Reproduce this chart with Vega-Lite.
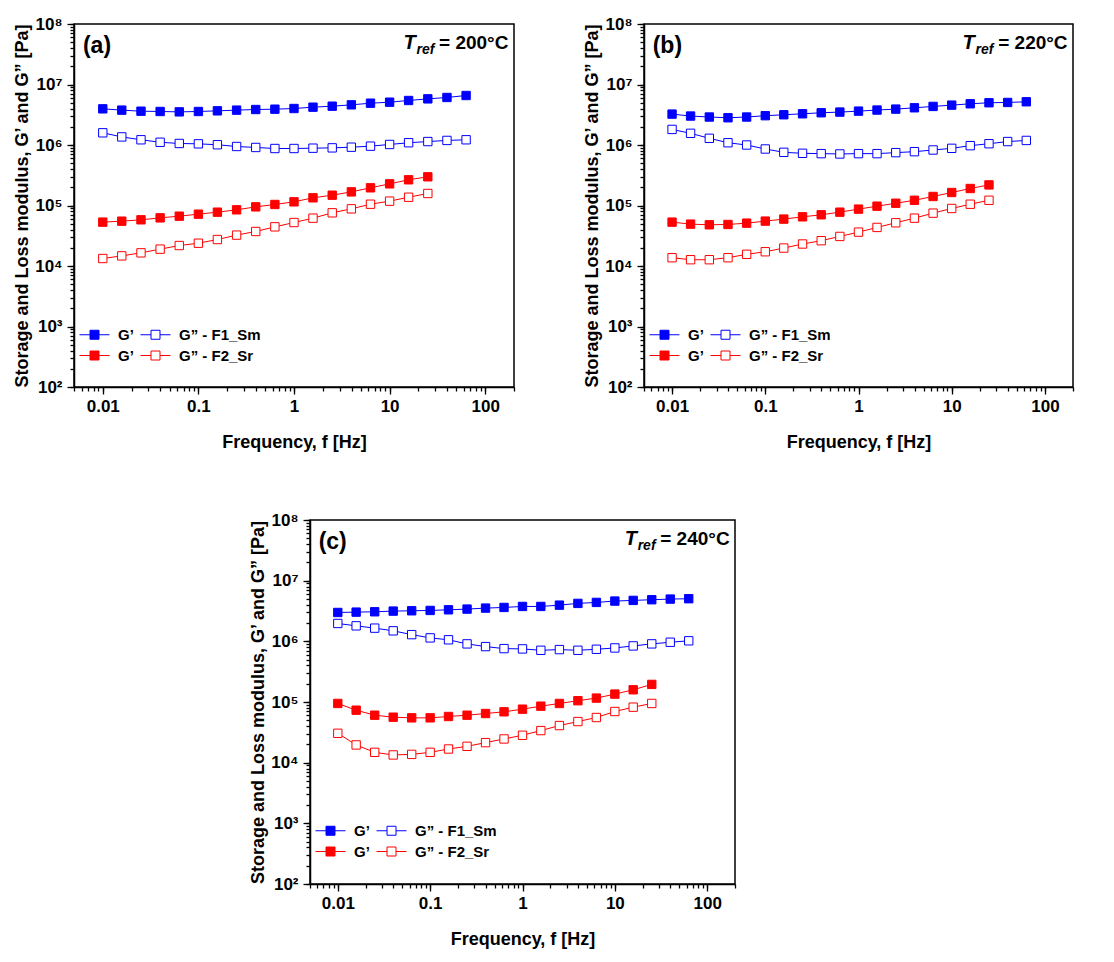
{
"$schema": "https://vega.github.io/schema/vega-lite/v6.json",
"background": "white",
"padding": {"left": 12, "top": 14, "right": 5, "bottom": 5},
"config": {
  "font": "Liberation Sans",
  "view": {"stroke": "black", "strokeWidth": 1.5},
  "axis": {"domainColor": "black", "domainWidth": 1.5, "tickColor": "black", "tickWidth": 1.3, "labelFont": "Liberation Sans", "labelFontSize": 17, "labelFontWeight": "bold", "labelColor": "black", "titleFont": "Liberation Sans", "titleFontSize": 18, "titleFontWeight": "bold", "titleColor": "black", "grid": false, "labelOverlap": false, "labelFlush": false},
  "legend": {"symbolType": "M-1.5,0H-0.45M0.45,0H1.5M-0.45,-0.45H0.45V0.45H-0.45Z", "symbolSize": 400, "symbolStrokeWidth": 1, "labelFont": "Liberation Sans", "labelFontSize": 15, "labelFontWeight": "bold", "labelColor": "black", "columnPadding": 4, "rowPadding": 2, "labelOffset": 13}
},
"datasets": {
"a": [
{"f":0.01,"s":"Sm_G1","G":3960000},{"f":0.0158,"s":"Sm_G1","G":3770000},{"f":0.0251,"s":"Sm_G1","G":3620000},{"f":0.0398,"s":"Sm_G1","G":3580000},{"f":0.0631,"s":"Sm_G1","G":3530000},{"f":0.1,"s":"Sm_G1","G":3580000},{"f":0.158,"s":"Sm_G1","G":3670000},{"f":0.251,"s":"Sm_G1","G":3770000},{"f":0.398,"s":"Sm_G1","G":3860000},{"f":0.631,"s":"Sm_G1","G":3910000},{"f":1,"s":"Sm_G1","G":4010000},{"f":1.58,"s":"Sm_G1","G":4220000},{"f":2.51,"s":"Sm_G1","G":4380000},{"f":3.98,"s":"Sm_G1","G":4610000},{"f":6.31,"s":"Sm_G1","G":4910000},{"f":10,"s":"Sm_G1","G":5100000},{"f":15.8,"s":"Sm_G1","G":5440000},{"f":25.1,"s":"Sm_G1","G":5790000},{"f":39.8,"s":"Sm_G1","G":6100000},{"f":63.1,"s":"Sm_G1","G":6580000},
{"f":0.01,"s":"Sm_G2","G":1590000},{"f":0.0158,"s":"Sm_G2","G":1360000},{"f":0.0251,"s":"Sm_G2","G":1220000},{"f":0.0398,"s":"Sm_G2","G":1110000},{"f":0.0631,"s":"Sm_G2","G":1060000},{"f":0.1,"s":"Sm_G2","G":1045000},{"f":0.158,"s":"Sm_G2","G":1010000},{"f":0.251,"s":"Sm_G2","G":945000},{"f":0.398,"s":"Sm_G2","G":910000},{"f":0.631,"s":"Sm_G2","G":875000},{"f":1,"s":"Sm_G2","G":875000},{"f":1.58,"s":"Sm_G2","G":886000},{"f":2.51,"s":"Sm_G2","G":897000},{"f":3.98,"s":"Sm_G2","G":920000},{"f":6.31,"s":"Sm_G2","G":957000},{"f":10,"s":"Sm_G2","G":1020000},{"f":15.8,"s":"Sm_G2","G":1090000},{"f":25.1,"s":"Sm_G2","G":1140000},{"f":39.8,"s":"Sm_G2","G":1190000},{"f":63.1,"s":"Sm_G2","G":1220000},
{"f":0.01,"s":"Sr_G1","G":53100},{"f":0.0158,"s":"Sr_G1","G":55100},{"f":0.0251,"s":"Sr_G1","G":58000},{"f":0.0398,"s":"Sr_G1","G":62500},{"f":0.0631,"s":"Sr_G1","G":66600},{"f":0.1,"s":"Sr_G1","G":71900},{"f":0.158,"s":"Sr_G1","G":77600},{"f":0.251,"s":"Sr_G1","G":84800},{"f":0.398,"s":"Sr_G1","G":95000},{"f":0.631,"s":"Sr_G1","G":104000},{"f":1,"s":"Sr_G1","G":115000},{"f":1.58,"s":"Sr_G1","G":134000},{"f":2.51,"s":"Sr_G1","G":148000},{"f":3.98,"s":"Sr_G1","G":168000},{"f":6.31,"s":"Sr_G1","G":196000},{"f":10,"s":"Sr_G1","G":228000},{"f":15.8,"s":"Sr_G1","G":266000},{"f":25.1,"s":"Sr_G1","G":298000},
{"f":0.01,"s":"Sr_G2","G":13300},{"f":0.0158,"s":"Sr_G2","G":14700},{"f":0.0251,"s":"Sr_G2","G":16500},{"f":0.0398,"s":"Sr_G2","G":19000},{"f":0.0631,"s":"Sr_G2","G":21800},{"f":0.1,"s":"Sr_G2","G":23800},{"f":0.158,"s":"Sr_G2","G":27400},{"f":0.251,"s":"Sr_G2","G":32400},{"f":0.398,"s":"Sr_G2","G":37200},{"f":0.631,"s":"Sr_G2","G":44400},{"f":1,"s":"Sr_G2","G":52300},{"f":1.58,"s":"Sr_G2","G":61800},{"f":2.51,"s":"Sr_G2","G":75700},{"f":3.98,"s":"Sr_G2","G":88100},{"f":6.31,"s":"Sr_G2","G":105000},{"f":10,"s":"Sr_G2","G":118000},{"f":15.8,"s":"Sr_G2","G":137000},{"f":25.1,"s":"Sr_G2","G":158000}
],
"b": [
{"f":0.01,"s":"Sm_G1","G":3240000},{"f":0.0158,"s":"Sm_G1","G":3010000},{"f":0.0251,"s":"Sm_G1","G":2900000},{"f":0.0398,"s":"Sm_G1","G":2820000},{"f":0.0631,"s":"Sm_G1","G":2900000},{"f":0.1,"s":"Sm_G1","G":3050000},{"f":0.158,"s":"Sm_G1","G":3160000},{"f":0.251,"s":"Sm_G1","G":3280000},{"f":0.398,"s":"Sm_G1","G":3410000},{"f":0.631,"s":"Sm_G1","G":3500000},{"f":1,"s":"Sm_G1","G":3630000},{"f":1.58,"s":"Sm_G1","G":3780000},{"f":2.51,"s":"Sm_G1","G":3920000},{"f":3.98,"s":"Sm_G1","G":4120000},{"f":6.31,"s":"Sm_G1","G":4340000},{"f":10,"s":"Sm_G1","G":4560000},{"f":15.8,"s":"Sm_G1","G":4800000},{"f":25.1,"s":"Sm_G1","G":4990000},{"f":39.8,"s":"Sm_G1","G":5050000},{"f":63.1,"s":"Sm_G1","G":5180000},
{"f":0.01,"s":"Sm_G2","G":1810000},{"f":0.0158,"s":"Sm_G2","G":1560000},{"f":0.0251,"s":"Sm_G2","G":1290000},{"f":0.0398,"s":"Sm_G2","G":1090000},{"f":0.0631,"s":"Sm_G2","G":1000000},{"f":0.1,"s":"Sm_G2","G":859000},{"f":0.158,"s":"Sm_G2","G":757000},{"f":0.251,"s":"Sm_G2","G":729000},{"f":0.398,"s":"Sm_G2","G":720000},{"f":0.631,"s":"Sm_G2","G":711000},{"f":1,"s":"Sm_G2","G":720000},{"f":1.58,"s":"Sm_G2","G":720000},{"f":2.51,"s":"Sm_G2","G":748000},{"f":3.98,"s":"Sm_G2","G":776000},{"f":6.31,"s":"Sm_G2","G":827000},{"f":10,"s":"Sm_G2","G":881000},{"f":15.8,"s":"Sm_G2","G":975000},{"f":25.1,"s":"Sm_G2","G":1050000},{"f":39.8,"s":"Sm_G2","G":1140000},{"f":63.1,"s":"Sm_G2","G":1190000},
{"f":0.01,"s":"Sr_G1","G":53100},{"f":0.0158,"s":"Sr_G1","G":49200},{"f":0.0251,"s":"Sr_G1","G":48000},{"f":0.0398,"s":"Sr_G1","G":48600},{"f":0.0631,"s":"Sr_G1","G":51100},{"f":0.1,"s":"Sr_G1","G":55200},{"f":0.158,"s":"Sr_G1","G":59600},{"f":0.251,"s":"Sr_G1","G":65000},{"f":0.398,"s":"Sr_G1","G":70200},{"f":0.631,"s":"Sr_G1","G":77600},{"f":1,"s":"Sr_G1","G":87100},{"f":1.58,"s":"Sr_G1","G":97500},{"f":2.51,"s":"Sr_G1","G":109000},{"f":3.98,"s":"Sr_G1","G":122000},{"f":6.31,"s":"Sr_G1","G":141000},{"f":10,"s":"Sr_G1","G":164000},{"f":15.8,"s":"Sr_G1","G":191000},{"f":25.1,"s":"Sr_G1","G":219000},
{"f":0.01,"s":"Sr_G2","G":13700},{"f":0.0158,"s":"Sr_G2","G":12700},{"f":0.0251,"s":"Sr_G2","G":12700},{"f":0.0398,"s":"Sr_G2","G":13700},{"f":0.0631,"s":"Sr_G2","G":15600},{"f":0.1,"s":"Sr_G2","G":17200},{"f":0.158,"s":"Sr_G2","G":19800},{"f":0.251,"s":"Sr_G2","G":23100},{"f":0.398,"s":"Sr_G2","G":26200},{"f":0.631,"s":"Sr_G2","G":30800},{"f":1,"s":"Sr_G2","G":36300},{"f":1.58,"s":"Sr_G2","G":43400},{"f":2.51,"s":"Sr_G2","G":51800},{"f":3.98,"s":"Sr_G2","G":61800},{"f":6.31,"s":"Sr_G2","G":74800},{"f":10,"s":"Sr_G2","G":89300},{"f":15.8,"s":"Sr_G2","G":105000},{"f":25.1,"s":"Sr_G2","G":122000}
],
"c": [
{"f":0.01,"s":"Sm_G1","G":2990000},{"f":0.0158,"s":"Sm_G1","G":3030000},{"f":0.0251,"s":"Sm_G1","G":3070000},{"f":0.0398,"s":"Sm_G1","G":3150000},{"f":0.0631,"s":"Sm_G1","G":3190000},{"f":0.1,"s":"Sm_G1","G":3230000},{"f":0.158,"s":"Sm_G1","G":3310000},{"f":0.251,"s":"Sm_G1","G":3400000},{"f":0.398,"s":"Sm_G1","G":3530000},{"f":0.631,"s":"Sm_G1","G":3620000},{"f":1,"s":"Sm_G1","G":3760000},{"f":1.58,"s":"Sm_G1","G":3760000},{"f":2.51,"s":"Sm_G1","G":3950000},{"f":3.98,"s":"Sm_G1","G":4220000},{"f":6.31,"s":"Sm_G1","G":4380000},{"f":10,"s":"Sm_G1","G":4610000},{"f":15.8,"s":"Sm_G1","G":4730000},{"f":25.1,"s":"Sm_G1","G":4850000},{"f":39.8,"s":"Sm_G1","G":4970000},{"f":63.1,"s":"Sm_G1","G":5040000},
{"f":0.01,"s":"Sm_G2","G":1970000},{"f":0.0158,"s":"Sm_G2","G":1800000},{"f":0.0251,"s":"Sm_G2","G":1650000},{"f":0.0398,"s":"Sm_G2","G":1490000},{"f":0.0631,"s":"Sm_G2","G":1290000},{"f":0.1,"s":"Sm_G2","G":1140000},{"f":0.158,"s":"Sm_G2","G":1060000},{"f":0.251,"s":"Sm_G2","G":908000},{"f":0.398,"s":"Sm_G2","G":819000},{"f":0.631,"s":"Sm_G2","G":759000},{"f":1,"s":"Sm_G2","G":750000},{"f":1.58,"s":"Sm_G2","G":712000},{"f":2.51,"s":"Sm_G2","G":731000},{"f":3.98,"s":"Sm_G2","G":712000},{"f":6.31,"s":"Sm_G2","G":740000},{"f":10,"s":"Sm_G2","G":778000},{"f":15.8,"s":"Sm_G2","G":840000},{"f":25.1,"s":"Sm_G2","G":908000},{"f":39.8,"s":"Sm_G2","G":966000},{"f":63.1,"s":"Sm_G2","G":1020000},
{"f":0.01,"s":"Sr_G1","G":94600},{"f":0.0158,"s":"Sr_G1","G":73300},{"f":0.0251,"s":"Sr_G1","G":60600},{"f":0.0398,"s":"Sr_G1","G":56200},{"f":0.0631,"s":"Sr_G1","G":54800},{"f":0.1,"s":"Sr_G1","G":54800},{"f":0.158,"s":"Sr_G1","G":57700},{"f":0.251,"s":"Sr_G1","G":60600},{"f":0.398,"s":"Sr_G1","G":64600},{"f":0.631,"s":"Sr_G1","G":68900},{"f":1,"s":"Sr_G1","G":76200},{"f":1.58,"s":"Sr_G1","G":85400},{"f":2.51,"s":"Sr_G1","G":94600},{"f":3.98,"s":"Sr_G1","G":105000},{"f":6.31,"s":"Sr_G1","G":116000},{"f":10,"s":"Sr_G1","G":135000},{"f":15.8,"s":"Sr_G1","G":159000},{"f":25.1,"s":"Sr_G1","G":195000},
{"f":0.01,"s":"Sr_G2","G":30500},{"f":0.0158,"s":"Sr_G2","G":19600},{"f":0.0251,"s":"Sr_G2","G":14800},{"f":0.0398,"s":"Sr_G2","G":13400},{"f":0.0631,"s":"Sr_G2","G":13700},{"f":0.1,"s":"Sr_G2","G":14800},{"f":0.158,"s":"Sr_G2","G":16800},{"f":0.251,"s":"Sr_G2","G":18600},{"f":0.398,"s":"Sr_G2","G":21400},{"f":0.631,"s":"Sr_G2","G":24600},{"f":1,"s":"Sr_G2","G":28300},{"f":1.58,"s":"Sr_G2","G":33800},{"f":2.51,"s":"Sr_G2","G":40900},{"f":3.98,"s":"Sr_G2","G":47600},{"f":6.31,"s":"Sr_G2","G":55500},{"f":10,"s":"Sr_G2","G":69700},{"f":15.8,"s":"Sr_G2","G":82200},{"f":25.1,"s":"Sr_G2","G":94600}
]
},
"spacing": 58,
"resolve": {"scale": {"x": "independent", "y": "independent", "stroke": "independent", "fill": "independent"}, "axis": {"x": "independent", "y": "independent"}, "legend": {"stroke": "independent", "fill": "independent"}},
"vconcat": [
{"hconcat": [
{"width": 440, "height": 363, "data": {"name": "a"},
 "resolve": {"axis": {"x": "independent", "y": "independent"}},
 "layer": [
  {"mark": {"type": "line", "strokeWidth": 1}, "encoding": {
    "x": {"field": "f", "type": "quantitative", "scale": {"type": "log", "domain": [0.005, 200], "nice": false}, "axis": {"orient": "bottom", "title": null, "labels": false, "domain": false, "tickSize": 4, "tickCount": 60}},
    "y": {"field": "G", "type": "quantitative", "scale": {"type": "log", "domain": [100, 100000000], "nice": false}, "axis": {"orient": "left", "title": null, "labels": false, "domain": false, "tickSize": 4, "tickCount": 80}},
    "detail": {"field": "s"},
    "stroke": {"field": "s", "scale": {"domain": ["Sm_G1","Sr_G1","Sm_G2","Sr_G2"], "range": ["#0000ff","#ff0000","#0000ff","#ff0000"]}, "legend": {"title": null, "orient": "none", "legendX": 10, "legendY": 300, "columns": 2, "labelExpr": "datum.label == 'Sm_G2' ? 'G” - F1_Sm' : datum.label == 'Sr_G2' ? 'G” - F2_Sr' : 'G’'"}}}},
  {"mark": {"type": "point", "shape": "square", "filled": true, "size": 70, "strokeWidth": 1, "opacity": 1}, "encoding": {
    "x": {"field": "f", "type": "quantitative", "axis": {"orient": "bottom", "title": "Frequency, f [Hz]", "values": [0.01,0.1,1,10,100], "format": "~g", "tickSize": 7, "labelPadding": 4, "titlePadding": 19}},
    "y": {"field": "G", "type": "quantitative", "axis": {"orient": "left", "title": "Storage and Loss modulus, G’ and G” [Pa]", "values": [100,1000,10000,100000,1000000,10000000,100000000], "labelExpr": "'10' + ['⁰','¹','²','³','⁴','⁵','⁶','⁷','⁸'][round(log(datum.value)/LN10)]", "tickSize": 7, "labelPadding": 5, "titlePadding": 3}},
    "stroke": {"field": "s", "legend": {"title": null, "orient": "none", "legendX": 10, "legendY": 300, "columns": 2, "labelExpr": "datum.label == 'Sm_G2' ? 'G” - F1_Sm' : datum.label == 'Sr_G2' ? 'G” - F2_Sr' : 'G’'"}},
    "fill": {"field": "s", "scale": {"domain": ["Sm_G1","Sr_G1","Sm_G2","Sr_G2"], "range": ["#0000ff","#ff0000","#ffffff","#ffffff"]}, "legend": {"title": null, "orient": "none", "legendX": 10, "legendY": 300, "columns": 2, "labelExpr": "datum.label == 'Sm_G2' ? 'G” - F1_Sm' : datum.label == 'Sr_G2' ? 'G” - F2_Sr' : 'G’'"}}}},
  {"data": {"values": [{}]}, "mark": {"type": "text", "text": "(a)", "fontSize": 23, "fontWeight": "bold", "align": "left", "baseline": "middle", "color": "black"}, "encoding": {"x": {"datum": 0.0062, "type": "quantitative", "axis": null}, "y": {"datum": 43000000, "type": "quantitative", "axis": null}}},
  {"data": {"values": [{}]}, "mark": {"type": "text", "text": "= 200°C", "fontSize": 19, "fontWeight": "bold", "align": "right", "baseline": "alphabetic", "color": "black"}, "encoding": {"x": {"datum": 175, "type": "quantitative", "axis": null}, "y": {"datum": 38600000, "type": "quantitative", "axis": null}}},
  {"data": {"values": [{}]}, "mark": {"type": "text", "text": "T", "fontSize": 20, "fontWeight": "bold", "fontStyle": "italic", "align": "left", "baseline": "alphabetic", "dx": -105, "color": "black"}, "encoding": {"x": {"datum": 175, "type": "quantitative", "axis": null}, "y": {"datum": 38600000, "type": "quantitative", "axis": null}}},
  {"data": {"values": [{}]}, "mark": {"type": "text", "text": "ref", "fontSize": 14, "fontWeight": "bold", "fontStyle": "italic", "align": "left", "baseline": "alphabetic", "dx": -92, "dy": 5, "color": "black"}, "encoding": {"x": {"datum": 175, "type": "quantitative", "axis": null}, "y": {"datum": 38600000, "type": "quantitative", "axis": null}}}
 ]},
{"width": 429, "height": 363, "data": {"name": "b"},
 "resolve": {"axis": {"x": "independent", "y": "independent"}},
 "layer": [
  {"mark": {"type": "line", "strokeWidth": 1}, "encoding": {
    "x": {"field": "f", "type": "quantitative", "scale": {"type": "log", "domain": [0.005, 200], "nice": false}, "axis": {"orient": "bottom", "title": null, "labels": false, "domain": false, "tickSize": 4, "tickCount": 60}},
    "y": {"field": "G", "type": "quantitative", "scale": {"type": "log", "domain": [100, 100000000], "nice": false}, "axis": {"orient": "left", "title": null, "labels": false, "domain": false, "tickSize": 4, "tickCount": 80}},
    "detail": {"field": "s"},
    "stroke": {"field": "s", "scale": {"domain": ["Sm_G1","Sr_G1","Sm_G2","Sr_G2"], "range": ["#0000ff","#ff0000","#0000ff","#ff0000"]}, "legend": {"title": null, "orient": "none", "legendX": 10, "legendY": 300, "columns": 2, "labelExpr": "datum.label == 'Sm_G2' ? 'G” - F1_Sm' : datum.label == 'Sr_G2' ? 'G” - F2_Sr' : 'G’'"}}}},
  {"mark": {"type": "point", "shape": "square", "filled": true, "size": 70, "strokeWidth": 1, "opacity": 1}, "encoding": {
    "x": {"field": "f", "type": "quantitative", "axis": {"orient": "bottom", "title": "Frequency, f [Hz]", "values": [0.01,0.1,1,10,100], "format": "~g", "tickSize": 7, "labelPadding": 4, "titlePadding": 19}},
    "y": {"field": "G", "type": "quantitative", "axis": {"orient": "left", "title": "Storage and Loss modulus, G’ and G” [Pa]", "values": [100,1000,10000,100000,1000000,10000000,100000000], "labelExpr": "'10' + ['⁰','¹','²','³','⁴','⁵','⁶','⁷','⁸'][round(log(datum.value)/LN10)]", "tickSize": 7, "labelPadding": 5, "titlePadding": 3}},
    "stroke": {"field": "s", "legend": {"title": null, "orient": "none", "legendX": 10, "legendY": 300, "columns": 2, "labelExpr": "datum.label == 'Sm_G2' ? 'G” - F1_Sm' : datum.label == 'Sr_G2' ? 'G” - F2_Sr' : 'G’'"}},
    "fill": {"field": "s", "scale": {"domain": ["Sm_G1","Sr_G1","Sm_G2","Sr_G2"], "range": ["#0000ff","#ff0000","#ffffff","#ffffff"]}, "legend": {"title": null, "orient": "none", "legendX": 10, "legendY": 300, "columns": 2, "labelExpr": "datum.label == 'Sm_G2' ? 'G” - F1_Sm' : datum.label == 'Sr_G2' ? 'G” - F2_Sr' : 'G’'"}}}},
  {"data": {"values": [{}]}, "mark": {"type": "text", "text": "(b)", "fontSize": 23, "fontWeight": "bold", "align": "left", "baseline": "middle", "color": "black"}, "encoding": {"x": {"datum": 0.0062, "type": "quantitative", "axis": null}, "y": {"datum": 43000000, "type": "quantitative", "axis": null}}},
  {"data": {"values": [{}]}, "mark": {"type": "text", "text": "= 220°C", "fontSize": 19, "fontWeight": "bold", "align": "right", "baseline": "alphabetic", "color": "black"}, "encoding": {"x": {"datum": 175, "type": "quantitative", "axis": null}, "y": {"datum": 38600000, "type": "quantitative", "axis": null}}},
  {"data": {"values": [{}]}, "mark": {"type": "text", "text": "T", "fontSize": 20, "fontWeight": "bold", "fontStyle": "italic", "align": "left", "baseline": "alphabetic", "dx": -105, "color": "black"}, "encoding": {"x": {"datum": 175, "type": "quantitative", "axis": null}, "y": {"datum": 38600000, "type": "quantitative", "axis": null}}},
  {"data": {"values": [{}]}, "mark": {"type": "text", "text": "ref", "fontSize": 14, "fontWeight": "bold", "fontStyle": "italic", "align": "left", "baseline": "alphabetic", "dx": -92, "dy": 5, "color": "black"}, "encoding": {"x": {"datum": 175, "type": "quantitative", "axis": null}, "y": {"datum": 38600000, "type": "quantitative", "axis": null}}}
 ]}
], "spacing": 66,
 "resolve": {"scale": {"x": "independent", "y": "independent", "stroke": "independent", "fill": "independent"}, "axis": {"x": "independent", "y": "independent"}, "legend": {"stroke": "independent", "fill": "independent"}}},
{"hconcat": [
{"width": 154, "height": 10, "data": {"values": []}, "mark": "point", "encoding": {}, "view": {"stroke": null}},
{"width": 425, "height": 364, "data": {"name": "c"},
 "resolve": {"axis": {"x": "independent", "y": "independent"}},
 "layer": [
  {"mark": {"type": "line", "strokeWidth": 1}, "encoding": {
    "x": {"field": "f", "type": "quantitative", "scale": {"type": "log", "domain": [0.005, 200], "nice": false}, "axis": {"orient": "bottom", "title": null, "labels": false, "domain": false, "tickSize": 4, "tickCount": 60}},
    "y": {"field": "G", "type": "quantitative", "scale": {"type": "log", "domain": [100, 100000000], "nice": false}, "axis": {"orient": "left", "title": null, "labels": false, "domain": false, "tickSize": 4, "tickCount": 80}},
    "detail": {"field": "s"},
    "stroke": {"field": "s", "scale": {"domain": ["Sm_G1","Sr_G1","Sm_G2","Sr_G2"], "range": ["#0000ff","#ff0000","#0000ff","#ff0000"]}, "legend": {"title": null, "orient": "none", "legendX": 10, "legendY": 300, "columns": 2, "labelExpr": "datum.label == 'Sm_G2' ? 'G” - F1_Sm' : datum.label == 'Sr_G2' ? 'G” - F2_Sr' : 'G’'"}}}},
  {"mark": {"type": "point", "shape": "square", "filled": true, "size": 70, "strokeWidth": 1, "opacity": 1}, "encoding": {
    "x": {"field": "f", "type": "quantitative", "axis": {"orient": "bottom", "title": "Frequency, f [Hz]", "values": [0.01,0.1,1,10,100], "format": "~g", "tickSize": 7, "labelPadding": 4, "titlePadding": 19}},
    "y": {"field": "G", "type": "quantitative", "axis": {"orient": "left", "title": "Storage and Loss modulus, G’ and G” [Pa]", "values": [100,1000,10000,100000,1000000,10000000,100000000], "labelExpr": "'10' + ['⁰','¹','²','³','⁴','⁵','⁶','⁷','⁸'][round(log(datum.value)/LN10)]", "tickSize": 7, "labelPadding": 5, "titlePadding": 3}},
    "stroke": {"field": "s", "legend": {"title": null, "orient": "none", "legendX": 10, "legendY": 300, "columns": 2, "labelExpr": "datum.label == 'Sm_G2' ? 'G” - F1_Sm' : datum.label == 'Sr_G2' ? 'G” - F2_Sr' : 'G’'"}},
    "fill": {"field": "s", "scale": {"domain": ["Sm_G1","Sr_G1","Sm_G2","Sr_G2"], "range": ["#0000ff","#ff0000","#ffffff","#ffffff"]}, "legend": {"title": null, "orient": "none", "legendX": 10, "legendY": 300, "columns": 2, "labelExpr": "datum.label == 'Sm_G2' ? 'G” - F1_Sm' : datum.label == 'Sr_G2' ? 'G” - F2_Sr' : 'G’'"}}}},
  {"data": {"values": [{}]}, "mark": {"type": "text", "text": "(c)", "fontSize": 23, "fontWeight": "bold", "align": "left", "baseline": "middle", "color": "black"}, "encoding": {"x": {"datum": 0.0062, "type": "quantitative", "axis": null}, "y": {"datum": 43000000, "type": "quantitative", "axis": null}}},
  {"data": {"values": [{}]}, "mark": {"type": "text", "text": "= 240°C", "fontSize": 19, "fontWeight": "bold", "align": "right", "baseline": "alphabetic", "color": "black"}, "encoding": {"x": {"datum": 175, "type": "quantitative", "axis": null}, "y": {"datum": 38600000, "type": "quantitative", "axis": null}}},
  {"data": {"values": [{}]}, "mark": {"type": "text", "text": "T", "fontSize": 20, "fontWeight": "bold", "fontStyle": "italic", "align": "left", "baseline": "alphabetic", "dx": -105, "color": "black"}, "encoding": {"x": {"datum": 175, "type": "quantitative", "axis": null}, "y": {"datum": 38600000, "type": "quantitative", "axis": null}}},
  {"data": {"values": [{}]}, "mark": {"type": "text", "text": "ref", "fontSize": 14, "fontWeight": "bold", "fontStyle": "italic", "align": "left", "baseline": "alphabetic", "dx": -92, "dy": 5, "color": "black"}, "encoding": {"x": {"datum": 175, "type": "quantitative", "axis": null}, "y": {"datum": 38600000, "type": "quantitative", "axis": null}}}
 ]}
], "spacing": 20,
 "resolve": {"scale": {"x": "independent", "y": "independent", "stroke": "independent", "fill": "independent"}, "axis": {"x": "independent", "y": "independent"}, "legend": {"stroke": "independent", "fill": "independent"}}}
]
}
